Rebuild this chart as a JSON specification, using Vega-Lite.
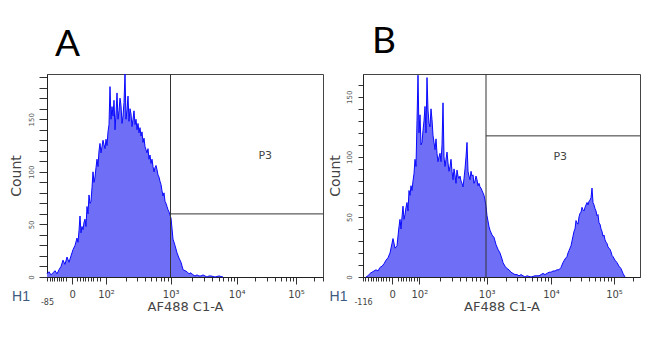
{
  "$schema": "https://vega.github.io/schema/vega-lite/v6.json",
  "background": "white",
  "padding": {"left": 8, "top": 22, "right": 5, "bottom": 5},
  "config": {
    "font": "DejaVu Sans",
    "view": {"stroke": "#444", "strokeWidth": 1},
    "axis": {"grid": false, "domainColor": "#222", "tickColor": "#333", "titleFontWeight": "normal", "titleColor": "#444", "labelColor": "#444"}
  },
  "datasets": {
    "histA": [
      {"ch":0,"n":3},{"ch":2,"n":5},{"ch":4,"n":2},{"ch":6,"n":4},{"ch":8,"n":6},{"ch":10,"n":3},{"ch":12,"n":7},{"ch":14,"n":10},
      {"ch":16,"n":16},{"ch":18,"n":12},{"ch":20,"n":19},{"ch":22,"n":14},{"ch":24,"n":20},{"ch":26,"n":26},{"ch":28,"n":30},
      {"ch":30,"n":37},{"ch":31,"n":33},{"ch":32,"n":44},{"ch":33,"n":58},{"ch":34,"n":42},{"ch":35,"n":48},{"ch":36,"n":45},{"ch":37,"n":52},
      {"ch":38,"n":55},{"ch":39,"n":48},{"ch":40,"n":67},{"ch":41,"n":60},{"ch":42,"n":78},{"ch":43,"n":70},{"ch":44,"n":72},{"ch":45,"n":85},
      {"ch":46,"n":100},{"ch":47,"n":90},{"ch":48,"n":95},{"ch":49,"n":104},{"ch":50,"n":112},{"ch":51,"n":105},{"ch":52,"n":120},{"ch":53,"n":127},
      {"ch":54,"n":118},{"ch":55,"n":124},{"ch":56,"n":130},{"ch":57,"n":126},{"ch":58,"n":122},{"ch":59,"n":131},{"ch":60,"n":125},{"ch":61,"n":138},
      {"ch":62,"n":145},{"ch":63,"n":181},{"ch":64,"n":150},{"ch":65,"n":162},{"ch":66,"n":153},{"ch":67,"n":168},{"ch":68,"n":140},{"ch":69,"n":155},
      {"ch":70,"n":175},{"ch":71,"n":150},{"ch":72,"n":158},{"ch":73,"n":170},{"ch":74,"n":163},{"ch":75,"n":146},{"ch":76,"n":153},{"ch":77,"n":166},
      {"ch":78,"n":193},{"ch":79,"n":150},{"ch":80,"n":159},{"ch":81,"n":172},{"ch":82,"n":148},{"ch":83,"n":160},{"ch":84,"n":155},{"ch":85,"n":143},
      {"ch":86,"n":150},{"ch":87,"n":158},{"ch":88,"n":145},{"ch":89,"n":150},{"ch":90,"n":140},{"ch":91,"n":146},{"ch":92,"n":137},{"ch":93,"n":142},
      {"ch":94,"n":134},{"ch":95,"n":138},{"ch":96,"n":128},{"ch":97,"n":132},{"ch":98,"n":124},{"ch":99,"n":121},{"ch":100,"n":118},{"ch":101,"n":122},
      {"ch":102,"n":112},{"ch":103,"n":116},{"ch":104,"n":108},{"ch":105,"n":112},{"ch":106,"n":105},{"ch":107,"n":100},{"ch":108,"n":104},{"ch":109,"n":106},
      {"ch":110,"n":102},{"ch":111,"n":97},{"ch":112,"n":95},{"ch":113,"n":91},{"ch":114,"n":88},{"ch":115,"n":82},{"ch":116,"n":77},{"ch":117,"n":80},
      {"ch":118,"n":72},{"ch":119,"n":70},{"ch":120,"n":67},{"ch":121,"n":64},{"ch":122,"n":62},{"ch":123,"n":59},{"ch":124,"n":56},
      {"ch":126,"n":36},{"ch":128,"n":30},{"ch":130,"n":23},{"ch":132,"n":18},
      {"ch":134,"n":14},{"ch":136,"n":7},{"ch":138,"n":6},{"ch":140,"n":5},{"ch":142,"n":3},{"ch":144,"n":4},{"ch":146,"n":2},{"ch":148,"n":1},
      {"ch":150,"n":2},{"ch":152,"n":1},{"ch":154,"n":1},{"ch":156,"n":2},{"ch":158,"n":1},{"ch":160,"n":0},{"ch":162,"n":1},{"ch":164,"n":1},
      {"ch":168,"n":0},{"ch":172,"n":1},{"ch":176,"n":0}
    ],
    "histB": [
      {"ch":3,"n":0},{"ch":5,"n":1},{"ch":7,"n":3},{"ch":9,"n":4},{"ch":11,"n":5},{"ch":13,"n":6},{"ch":15,"n":5},{"ch":17,"n":8},
      {"ch":19,"n":9},{"ch":21,"n":11},{"ch":23,"n":14},{"ch":25,"n":16},{"ch":27,"n":20},{"ch":29,"n":28},{"ch":30,"n":32},{"ch":32,"n":24},
      {"ch":34,"n":26},{"ch":36,"n":42},{"ch":37,"n":48},{"ch":38,"n":40},{"ch":39,"n":50},{"ch":40,"n":59},{"ch":41,"n":48},{"ch":42,"n":52},
      {"ch":43,"n":58},{"ch":44,"n":62},{"ch":45,"n":55},{"ch":46,"n":72},{"ch":47,"n":68},{"ch":48,"n":76},{"ch":49,"n":72},{"ch":50,"n":80},
      {"ch":51,"n":86},{"ch":52,"n":98},{"ch":53,"n":92},{"ch":54,"n":130},{"ch":55,"n":168},{"ch":56,"n":120},{"ch":57,"n":135},{"ch":58,"n":110},
      {"ch":59,"n":112},{"ch":60,"n":122},{"ch":61,"n":130},{"ch":62,"n":142},{"ch":63,"n":120},{"ch":64,"n":166},{"ch":65,"n":139},{"ch":66,"n":128},
      {"ch":67,"n":125},{"ch":68,"n":140},{"ch":69,"n":131},{"ch":70,"n":118},{"ch":71,"n":112},{"ch":72,"n":106},{"ch":73,"n":115},{"ch":74,"n":103},
      {"ch":75,"n":96},{"ch":76,"n":100},{"ch":77,"n":103},{"ch":78,"n":96},{"ch":79,"n":110},{"ch":80,"n":145},{"ch":81,"n":100},{"ch":82,"n":92},
      {"ch":83,"n":98},{"ch":84,"n":104},{"ch":85,"n":95},{"ch":86,"n":88},{"ch":87,"n":92},{"ch":88,"n":98},{"ch":89,"n":88},{"ch":90,"n":81},
      {"ch":91,"n":90},{"ch":92,"n":85},{"ch":93,"n":78},{"ch":94,"n":89},{"ch":95,"n":84},{"ch":96,"n":82},{"ch":97,"n":84},{"ch":98,"n":80},
      {"ch":99,"n":78},{"ch":100,"n":75},{"ch":101,"n":82},{"ch":102,"n":90},{"ch":103,"n":100},{"ch":104,"n":112},{"ch":105,"n":88},{"ch":106,"n":84},
      {"ch":107,"n":81},{"ch":108,"n":88},{"ch":109,"n":84},{"ch":110,"n":85},{"ch":111,"n":78},{"ch":112,"n":80},{"ch":113,"n":84},{"ch":114,"n":81},
      {"ch":115,"n":76},{"ch":116,"n":78},{"ch":117,"n":75},{"ch":118,"n":74},{"ch":119,"n":72},{"ch":120,"n":70},{"ch":121,"n":68},{"ch":122,"n":64},
      {"ch":123,"n":59},{"ch":124,"n":51},{"ch":126,"n":42},
      {"ch":127,"n":39},{"ch":129,"n":35},{"ch":131,"n":33},{"ch":133,"n":27},{"ch":135,"n":23},{"ch":137,"n":20},{"ch":139,"n":15},{"ch":140,"n":12},
      {"ch":142,"n":9},{"ch":144,"n":7},{"ch":146,"n":6},{"ch":148,"n":4},{"ch":150,"n":3},{"ch":152,"n":2},{"ch":154,"n":2},{"ch":156,"n":1},
      {"ch":158,"n":2},{"ch":160,"n":1},{"ch":162,"n":0},{"ch":164,"n":1},{"ch":168,"n":0},{"ch":172,"n":1},{"ch":176,"n":1},{"ch":178,"n":2},
      {"ch":180,"n":3},{"ch":182,"n":2},{"ch":184,"n":3},{"ch":186,"n":4},{"ch":188,"n":4},{"ch":190,"n":5},{"ch":192,"n":5},{"ch":194,"n":6},
      {"ch":196,"n":6},{"ch":198,"n":8},{"ch":200,"n":12},{"ch":202,"n":15},
      {"ch":204,"n":17},{"ch":205,"n":20},{"ch":206,"n":22},{"ch":207,"n":24},{"ch":208,"n":26},{"ch":209,"n":30},{"ch":210,"n":34},{"ch":211,"n":38},
      {"ch":212,"n":40},{"ch":213,"n":47},{"ch":214,"n":45},{"ch":215,"n":44},{"ch":216,"n":50},{"ch":217,"n":53},{"ch":218,"n":54},{"ch":219,"n":58},
      {"ch":220,"n":56},{"ch":221,"n":55},{"ch":222,"n":58},{"ch":223,"n":60},{"ch":224,"n":62},{"ch":225,"n":60},{"ch":226,"n":63},{"ch":227,"n":64},
      {"ch":228,"n":66},{"ch":229,"n":74},{"ch":230,"n":62},{"ch":231,"n":60},{"ch":232,"n":57},{"ch":233,"n":55},{"ch":234,"n":51},{"ch":235,"n":52},
      {"ch":236,"n":45},{"ch":237,"n":44},{"ch":238,"n":40},{"ch":239,"n":38},{"ch":240,"n":34},{"ch":241,"n":35},{"ch":242,"n":31},{"ch":243,"n":29},
      {"ch":244,"n":28},{"ch":245,"n":25},{"ch":246,"n":24},{"ch":247,"n":23},{"ch":248,"n":21},{"ch":249,"n":18},{"ch":250,"n":17},
      {"ch":252,"n":14},{"ch":254,"n":12},{"ch":256,"n":9},{"ch":258,"n":7},{"ch":260,"n":3},{"ch":262,"n":0}
    ],
    "gateA": [
      {"ch":123.5,"ch2":123.5,"n":0,"n2":193},
      {"ch":123.5,"ch2":276,"n":60,"n2":60}
    ],
    "gateB": [
      {"ch":123,"ch2":123,"n":0,"n2":169},
      {"ch":123,"ch2":277,"n":117.5,"n2":117.5}
    ],
    "textA": [
      {"ch":218.3,"n":114.6,"label":"P3","kind":"gate"},
      {"ch":-26,"n":-19,"label":"H1","kind":"plot"}
    ],
    "textB": [
      {"ch":197.3,"n":100.3,"label":"P3","kind":"gate"},
      {"ch":-24.5,"n":-16.7,"label":"H1","kind":"plot"}
    ]
  },
  "hconcat": [
    {
      "width": 276,
      "height": 203,
      "title": {"text": "A", "anchor": "start", "frame": "group", "font": "Lato", "fontSize": 37, "fontWeight": "normal", "color": "#000", "dx": 8, "offset": -21, "baseline": "alphabetic"},
      "encoding": {
        "x": {
          "field": "ch", "type": "quantitative",
          "scale": {"domain": [0, 276], "nice": false, "zero": false},
          "axis": {
            "title": "AF488 C1-A", "titleFontSize": 13, "titleY": 33, "titleBaseline": "alphabetic",
            "values": [0, 3, 5.3, 7.3, 9.7, 12, 14.3, 16.3, 18.7, 25.3, 30.3, 33, 35.7, 38.3, 41, 43.7, 46.3, 49.7, 53, 59, 78.5, 89.9, 98, 104.2, 109.3, 113.7, 117.4, 120.7, 123.7, 144.5, 157, 165.3, 171.7, 176.3, 180.7, 184.3, 187.3, 189.7, 208, 219.7, 228, 234, 239, 243, 246.3, 249, 267, 276],
            "labelExpr": "datum.value === 0 ? '-85' : datum.value === 25.3 ? '0' : datum.value === 59 ? '10²' : datum.value === 123.7 ? '10³' : datum.value === 189.7 ? '10⁴' : datum.value === 249 ? '10⁵' : ''",
            "labelFlush": false, "labelOverlap": false, "labelBound": false,
            "labelFontSize": {"condition": {"test": "datum.value === 0", "value": 8}, "value": 10},
            "labelPadding": {"condition": {"test": "datum.value === 0", "value": 17}, "value": 5},
            "tickSize": {"condition": {"test": "indexof([25.3, 59, 123.7, 189.7, 249], datum.value) >= 0", "value": 7}, "value": 4}
          }
        },
        "y": {
          "field": "n", "type": "quantitative",
          "scale": {"domain": [0, 193], "nice": false},
          "axis": {
            "title": "Count", "titleFontSize": 14, "titlePadding": 4,
            "values": [0, 10, 20, 30, 40, 50, 60, 70, 80, 90, 100, 110, 120, 130, 140, 150, 160, 170, 180, 190],
            "labelExpr": "datum.value % 50 === 0 ? datum.label : ''",
            "labelAngle": -90, "labelAlign": "center", "labelBaseline": "bottom",
            "labelFontSize": 7, "labelColor": "#555", "labelPadding": 5, "tickSize": 8
          }
        }
      },
      "layer": [
        {"data": {"name": "histA"}, "mark": {"type": "area", "color": "#6e6ef6"}},
        {"data": {"name": "histA"}, "mark": {"type": "line", "color": "#0a0aff", "strokeWidth": 1}},
        {"data": {"name": "gateA"}, "mark": {"type": "rule", "color": "#333", "strokeWidth": 1},
         "encoding": {"x2": {"field": "ch2"}, "y2": {"field": "n2"}}},
        {"data": {"name": "textA"}, "transform": [{"filter": "datum.kind === 'gate'"}],
         "mark": {"type": "text", "fontSize": 11, "color": "#444", "baseline": "middle"},
         "encoding": {"text": {"field": "label"}}},
        {"data": {"name": "textA"}, "transform": [{"filter": "datum.kind === 'plot'"}],
         "mark": {"type": "text", "font": "Liberation Sans", "fontSize": 14, "color": "#3d5a80", "baseline": "middle"},
         "encoding": {"text": {"field": "label"}}}
      ]
    },
    {
      "width": 277,
      "height": 203,
      "title": {"text": "B", "anchor": "start", "frame": "group", "font": "Lato", "fontSize": 37, "fontWeight": "normal", "color": "#000", "dx": 9, "offset": -17, "baseline": "alphabetic"},
      "encoding": {
        "x": {
          "field": "ch", "type": "quantitative",
          "scale": {"domain": [0, 277], "nice": false, "zero": false},
          "axis": {
            "title": "AF488 C1-A", "titleFontSize": 13, "titleY": 33, "titleBaseline": "alphabetic",
            "values": [0, 2.3, 5.3, 7.7, 10.3, 12.7, 15.3, 17.7, 20.3, 23, 25.7, 29.3, 35.3, 37.7, 40.3, 43, 45.7, 48.3, 51, 53.7, 56.3, 76.6, 88.5, 96.9, 103.4, 108.7, 113.3, 117.2, 120.6, 123.7, 143.1, 154.4, 162.4, 168.6, 173.7, 178, 181.8, 185.1, 188, 207, 218.1, 225.9, 232, 237, 241.2, 244.9, 248.1, 251, 270],
            "labelExpr": "datum.value === 0 ? '-116' : datum.value === 29.3 ? '0' : datum.value === 56.3 ? '10²' : datum.value === 123.7 ? '10³' : datum.value === 188 ? '10⁴' : datum.value === 251 ? '10⁵' : ''",
            "labelFlush": false, "labelOverlap": false, "labelBound": false,
            "labelFontSize": {"condition": {"test": "datum.value === 0", "value": 8}, "value": 10},
            "labelPadding": {"condition": {"test": "datum.value === 0", "value": 17}, "value": 5},
            "tickSize": {"condition": {"test": "indexof([29.3, 56.3, 123.7, 188, 251], datum.value) >= 0", "value": 7}, "value": 4}
          }
        },
        "y": {
          "field": "n", "type": "quantitative",
          "scale": {"domain": [0, 169], "nice": false},
          "axis": {
            "title": "Count", "titleFontSize": 14, "titlePadding": 3,
            "values": [0, 10, 20, 30, 40, 50, 60, 70, 80, 90, 100, 110, 120, 130, 140, 150, 160],
            "labelExpr": "datum.value % 50 === 0 ? datum.label : ''",
            "labelAngle": -90, "labelAlign": "center", "labelBaseline": "bottom",
            "labelFontSize": 7, "labelColor": "#555", "labelPadding": 6, "tickSize": 5
          }
        }
      },
      "layer": [
        {"data": {"name": "histB"}, "mark": {"type": "area", "color": "#6e6ef6"}},
        {"data": {"name": "histB"}, "mark": {"type": "line", "color": "#0a0aff", "strokeWidth": 1}},
        {"data": {"name": "gateB"}, "mark": {"type": "rule", "color": "#333", "strokeWidth": 1},
         "encoding": {"x2": {"field": "ch2"}, "y2": {"field": "n2"}}},
        {"data": {"name": "textB"}, "transform": [{"filter": "datum.kind === 'gate'"}],
         "mark": {"type": "text", "fontSize": 11, "color": "#444", "baseline": "middle"},
         "encoding": {"text": {"field": "label"}}},
        {"data": {"name": "textB"}, "transform": [{"filter": "datum.kind === 'plot'"}],
         "mark": {"type": "text", "font": "Liberation Sans", "fontSize": 14, "color": "#3d5a80", "baseline": "middle"},
         "encoding": {"text": {"field": "label"}}}
      ]
    }
  ],
  "spacing": 40,
  "bounds": "flush"
}
